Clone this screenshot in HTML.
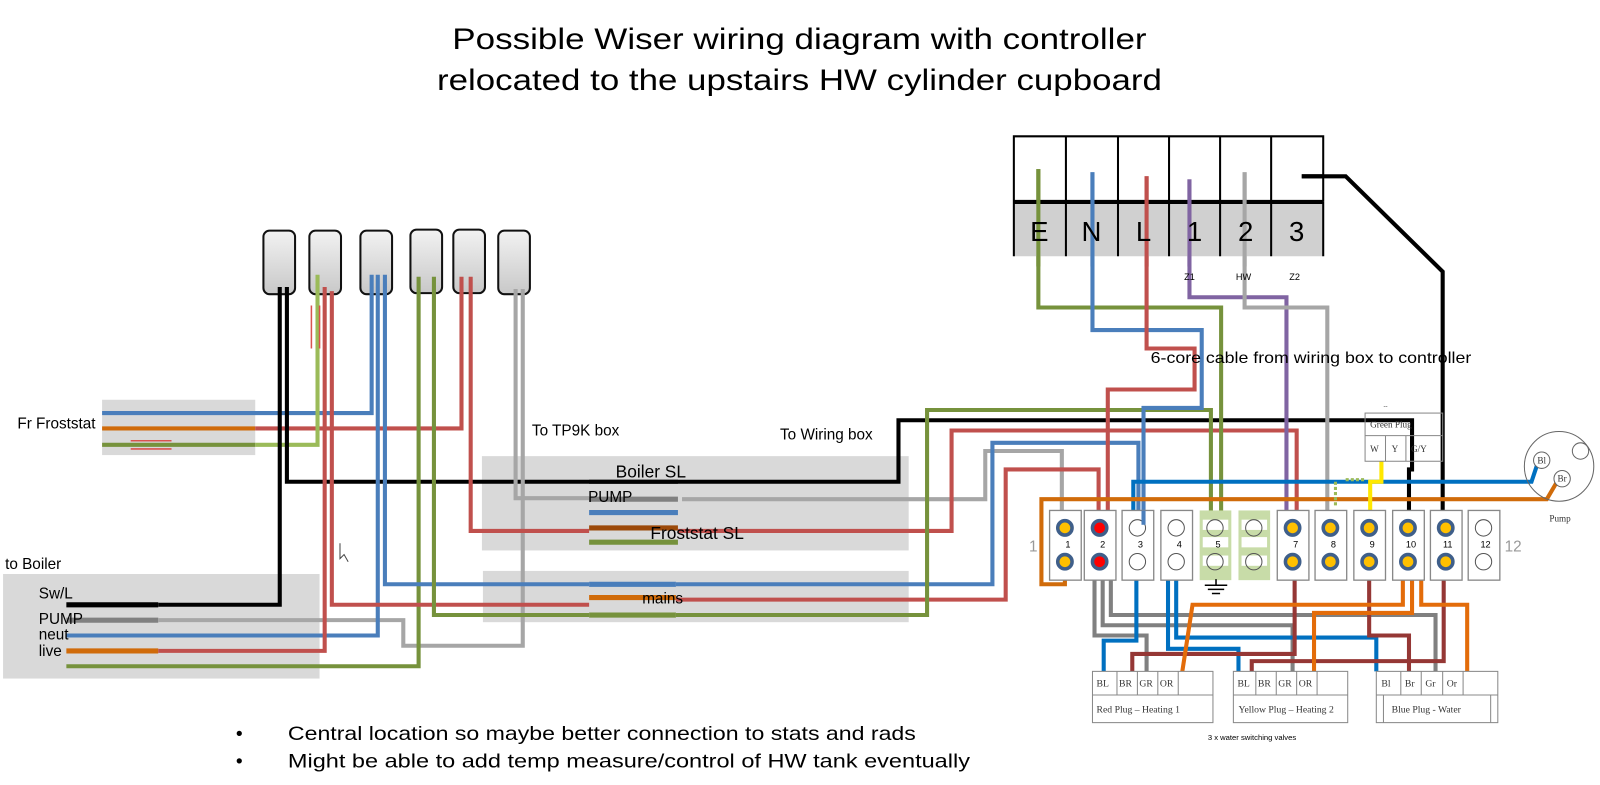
<!DOCTYPE html>
<html><head><meta charset="utf-8"><style>
html,body{margin:0;padding:0;background:#fff;}
svg{display:block;font-family:"Liberation Sans",sans-serif;}
</style></head><body>
<svg width="1600" height="785" viewBox="0 0 1600 785" xmlns="http://www.w3.org/2000/svg">
<defs>
<linearGradient id="sw" x1="0" y1="0" x2="0" y2="1"><stop offset="0" stop-color="#f2f2f2"/><stop offset="1" stop-color="#c8c8c8"/></linearGradient>
</defs>
<g transform="scale(1.021,1.025)">
<text x="783" y="48" font-size="29" text-anchor="middle" textLength="680" lengthAdjust="spacingAndGlyphs">Possible Wiser wiring diagram with controller</text>
<text x="783" y="88" font-size="29" text-anchor="middle" textLength="710" lengthAdjust="spacingAndGlyphs">relocated to the upstairs HW cylinder cupboard</text>

<rect x="100" y="390" width="150" height="54" fill="#d9d9d9"/>
<rect x="472" y="445" width="418" height="92" fill="#d9d9d9"/>
<rect x="473" y="557" width="417" height="50" fill="#d9d9d9"/>
<rect x="3" y="560" width="310" height="102" fill="#d9d9d9"/>

<g fill="url(#sw)" stroke="#111" stroke-width="2">
<rect x="258" y="225" width="31" height="62" rx="6"/>
<rect x="303" y="225" width="31" height="62" rx="6"/>
<rect x="353" y="225" width="31" height="62" rx="6"/>
<rect x="402" y="224" width="31" height="62" rx="6"/>
<rect x="444" y="224" width="31" height="62" rx="6"/>
<rect x="488" y="225" width="31" height="62" rx="6"/>
</g>

<g fill="none" stroke-width="4" stroke-linejoin="miter">
<path d="M100 403H250H364V268" stroke="#4a7ebb"/>
<path d="M100 418H250" stroke="#d06b0a"/>
<path d="M250 418H452V270" stroke="#c0504d"/>
<path d="M100 434H250" stroke="#76923c"/>
<path d="M250 434H311V268" stroke="#9bbb59"/>
<path d="M128 430H168M128 438H168" stroke="#d9534f" stroke-width="1.5"/>
<path d="M305 298V340M313 298V340" stroke="#d9534f" stroke-width="1.5"/>

<path d="M65 590H155" stroke="#000" stroke-width="5"/>
<path d="M155 590H274V280" stroke="#000" stroke-width="4"/>
<path d="M281 280V470H880V410H1383V458H1380V512" stroke="#000"/>
<path d="M65 605H155" stroke="#808080" stroke-width="5"/>
<path d="M155 605H395V630H512V282" stroke="#a6a6a6"/>
<path d="M65 620H155H370V268" stroke="#4a7ebb"/>
<path d="M65 635H155" stroke="#d06b0a" stroke-width="5"/>
<path d="M155 635H318V280" stroke="#c0504d"/>
<path d="M65 650H155H410V270" stroke="#76923c"/>

<path d="M325 284V590H577" stroke="#c0504d"/>
<path d="M377 268V570H577" stroke="#4a7ebb"/>
<path d="M425 270V600H577" stroke="#76923c"/>
<path d="M461 270V518H577" stroke="#c0504d"/>
<path d="M505 282V486H577" stroke="#a6a6a6"/>

<path d="M577 470H664" stroke="#000" stroke-width="4"/>
<path d="M577 487H664" stroke="#808080" stroke-width="5"/>
<path d="M577 500H664" stroke="#4a7ebb" stroke-width="5"/>
<path d="M577 515H664" stroke="#9c4a0a" stroke-width="5"/>
<path d="M577 529H664" stroke="#76923c" stroke-width="5"/>
<path d="M668 487H965V440H1040V512" stroke="#a6a6a6"/>
<path d="M664 518H932V420H1270V512" stroke="#c0504d"/>

<path d="M577 570H662" stroke="#4a7ebb" stroke-width="5"/>
<path d="M577 583H662" stroke="#d06b0a" stroke-width="5"/>
<path d="M577 600H662" stroke="#76923c" stroke-width="5"/>
<path d="M662 570H972V432H1115V512" stroke="#4a7ebb"/>
<path d="M662 585H985V458H1076V512" stroke="#c0504d"/>
<path d="M662 600H908V400H1186V512" stroke="#76923c"/>

<path d="M1017 165V300H1196V512" stroke="#76923c"/>
<path d="M1070 168V322H1177V398H1120V512" stroke="#4a7ebb"/>
<path d="M1123 172V340H1170V380H1085V512" stroke="#c0504d"/>
<path d="M1165 175V290H1260V512" stroke="#8064a2"/>
<path d="M1219 168V300H1300V512" stroke="#a6a6a6"/>
<path d="M1275 172H1318L1413 265V512" stroke="#000"/>

<path d="M1506 452L1500 470H1110V498" stroke="#0070c0"/>
<path d="M1525 470L1515 487H1020V570H1043V548" stroke="#d06b0a"/>
<path d="M1353 450V470H1342V498" stroke="#ffe800"/>
<path d="M1318 468H1336" stroke="#9bbb59" stroke-width="3" stroke-dasharray="3 2"/>
<path d="M1308 470V495" stroke="#9bbb59" stroke-width="3" stroke-dasharray="3 2"/>

<path d="M1072 565V620H1123V655" stroke="#808080"/>
<path d="M1080 565V610H1266V655" stroke="#808080"/>
<path d="M1088 565V600H1406V655" stroke="#808080"/>
<path d="M1113 565V625H1081V655" stroke="#0070c0"/>
<path d="M1144 565V633H1213V655" stroke="#0070c0"/>
<path d="M1152 565V622H1348V655" stroke="#0070c0"/>
<path d="M1268 565V638H1109V655" stroke="#953735"/>
<path d="M1341 565V620H1380V655" stroke="#953735"/>
<path d="M1414 565V645H1226V655" stroke="#953735"/>
<path d="M1374 565V590H1168L1158 655" stroke="#e36c0a"/>
<path d="M1383 565V598H1287V655" stroke="#e36c0a"/>
<path d="M1392 565V590H1437V655" stroke="#e36c0a"/>
</g>

<rect x="993" y="197" width="303" height="53" fill="#d0d0d0"/>
<g stroke="#000" stroke-width="2" fill="none">
<path d="M993 250V133H1296V197"/>
<path d="M1044 133V250M1095 133V250M1145 133V250M1195 133V250M1245 133V250M1296 197V250"/>
</g>
<path d="M993 197H1296" stroke="#000" stroke-width="4"/>
<g fill="none" stroke-width="4">
<path d="M1017 165V260" stroke="#76923c"/><path d="M1070 168V260" stroke="#4a7ebb"/>
<path d="M1123 172V260" stroke="#c0504d"/><path d="M1165 175V260" stroke="#8064a2"/>
<path d="M1219 168V260" stroke="#a6a6a6"/><path d="M1275 172H1296" stroke="#000"/>
</g>
<g font-size="27" text-anchor="middle">
<text x="1018" y="235">E</text><text x="1069" y="235">N</text><text x="1120" y="235">L</text>
<text x="1170" y="235">1</text><text x="1220" y="235">2</text><text x="1270" y="235">3</text>
</g>
<g font-size="9" text-anchor="middle"><text x="1165" y="273">Z1</text><text x="1218" y="273">HW</text><text x="1268" y="273">Z2</text></g>

<g stroke="#888" stroke-width="1.3" fill="#fff">
<rect x="1028" y="498" width="31" height="68"/><rect x="1062" y="498" width="31" height="68"/>
<rect x="1099" y="498" width="31" height="68"/><rect x="1137" y="498" width="31" height="68"/>
<rect x="1175" y="498" width="31" height="68" fill="#c8dca8" stroke="none"/>
<rect x="1213" y="498" width="31" height="68" fill="#c8dca8" stroke="none"/>
<rect x="1251" y="498" width="31" height="68"/><rect x="1288" y="498" width="31" height="68"/>
<rect x="1326" y="498" width="31" height="68"/><rect x="1364" y="498" width="31" height="68"/>
<rect x="1401" y="498" width="31" height="68"/><rect x="1438" y="498" width="31" height="68"/>
</g>
<g fill="#fff" stroke="none">
<rect x="1178" y="507" width="25" height="10"/><rect x="1178" y="524" width="25" height="10"/><rect x="1178" y="542" width="25" height="10"/>
<rect x="1216" y="507" width="25" height="10"/><rect x="1216" y="524" width="25" height="10"/><rect x="1216" y="542" width="25" height="10"/>
</g>
<g stroke="#3f5f8a" stroke-width="3.5" fill="#ffc000">
<circle cx="1043" cy="515" r="7"/><circle cx="1043" cy="548" r="7"/>
<circle cx="1266" cy="515" r="7"/><circle cx="1266" cy="548" r="7"/>
<circle cx="1303" cy="515" r="7"/><circle cx="1303" cy="548" r="7"/>
<circle cx="1341" cy="515" r="7"/><circle cx="1341" cy="548" r="7"/>
<circle cx="1379" cy="515" r="7"/><circle cx="1379" cy="548" r="7"/>
<circle cx="1416" cy="515" r="7"/><circle cx="1416" cy="548" r="7"/>
<circle cx="1077" cy="515" r="7" fill="#f00"/><circle cx="1077" cy="548" r="7" fill="#f00"/>
</g>
<g stroke="#555" stroke-width="1" fill="none">
<circle cx="1114" cy="515" r="8"/><circle cx="1114" cy="548" r="8"/>
<circle cx="1152" cy="515" r="8"/><circle cx="1152" cy="548" r="8"/>
<circle cx="1190" cy="515" r="8"/><circle cx="1190" cy="548" r="8"/>
<circle cx="1228" cy="515" r="8"/><circle cx="1228" cy="548" r="8"/>
<circle cx="1453" cy="515" r="8"/><circle cx="1453" cy="548" r="8"/>
</g>
<path d="M1120 498V512" stroke="#4a7ebb" stroke-width="4"/>
<g font-size="9" text-anchor="middle">
<text x="1046" y="534">1</text><text x="1080" y="534">2</text><text x="1117" y="534">3</text><text x="1155" y="534">4</text>
<text x="1193" y="534">5</text><text x="1269" y="534">7</text><text x="1306" y="534">8</text><text x="1344" y="534">9</text>
<text x="1382" y="534">10</text><text x="1418" y="534">11</text><text x="1455" y="534">12</text>
</g>
<text x="1012" y="538" font-size="15" fill="#999" text-anchor="middle">1</text>
<text x="1482" y="538" font-size="15" fill="#999" text-anchor="middle">12</text>
<path d="M1180 571H1202M1183 575H1199M1187 579H1195M1191 565V571" stroke="#000" stroke-width="1.5"/>

<g stroke="#888" stroke-width="1" fill="#fff">
<rect x="1337" y="403" width="76" height="47" fill="none"/>
<path d="M1337 425H1413M1357 425V450M1377 425V450"/>
</g>
<g font-family="Liberation Serif,serif" font-size="9" fill="#333">
<text x="1342" y="417">Green Plug</text>
<text x="1342" y="441">W</text><text x="1363" y="441">Y</text><text x="1382" y="441">G/Y</text>
<text x="1355" y="398" font-size="6">--</text>
</g>

<circle cx="1527" cy="455" r="34" fill="none" stroke="#666" stroke-width="1"/>
<circle cx="1510" cy="449" r="8" fill="#fff" stroke="#666"/><circle cx="1530" cy="467" r="8" fill="#fff" stroke="#666"/>
<circle cx="1548" cy="440" r="8" fill="#fff" stroke="#666"/>
<g font-family="Liberation Serif,serif" font-size="9" fill="#333" text-anchor="middle">
<text x="1510" y="452">Bl</text><text x="1530" y="470">Br</text><text x="1528" y="509">Pump</text></g>

<g stroke="#888" stroke-width="1" fill="none">
<rect x="1070" y="655" width="118" height="50"/><path d="M1070 678H1188M1094 655V678M1114 655V678M1134 655V678M1154 655V678"/>
<rect x="1208" y="655" width="112" height="50"/><path d="M1208 678H1320M1230 655V678M1250 655V678M1270 655V678M1290 655V678"/>
<rect x="1348" y="655" width="119" height="50"/><path d="M1348 678H1467M1372 655V678M1392 655V678M1413 655V678M1433 655V678M1355 678V705M1460 678V705"/>
</g>
<g font-family="Liberation Serif,serif" font-size="9.5" fill="#333">
<text x="1074" y="670">BL</text><text x="1096" y="670">BR</text><text x="1116" y="670">GR</text><text x="1136" y="670">OR</text>
<text x="1212" y="670">BL</text><text x="1232" y="670">BR</text><text x="1252" y="670">GR</text><text x="1272" y="670">OR</text>
<text x="1353" y="670">Bl</text><text x="1376" y="670">Br</text><text x="1396" y="670">Gr</text><text x="1417" y="670">Or</text>
<text x="1074" y="695">Red Plug – Heating 1</text>
<text x="1213" y="695">Yellow Plug – Heating 2</text>
<text x="1363" y="695">Blue Plug - Water</text>
</g>
<text x="1183" y="722" font-size="7.5">3 x water switching valves</text>

<g font-size="15">
<text x="17" y="418">Fr Froststat</text>
<text x="5" y="555">to Boiler</text>
<text x="38" y="584">Sw/L</text>
<text x="38" y="609">PUMP</text>
<text x="38" y="624">neut</text>
<text x="38" y="640">live</text>
<text x="521" y="425">To TP9K box</text>
<text x="764" y="429">To Wiring box</text>
<text x="576" y="490">PUMP</text>
<text x="629" y="589">mains</text>
<text x="1127" y="354" textLength="314" lengthAdjust="spacingAndGlyphs">6-core cable from wiring box to controller</text>
</g>
<text x="603" y="466" font-size="17">Boiler SL</text>
<text x="637" y="526" font-size="17">Froststat SL</text>
<g font-size="19">
<text x="231" y="722">•</text><text x="282" y="722" textLength="615" lengthAdjust="spacingAndGlyphs">Central location so maybe better connection to stats and rads</text>
<text x="231" y="749">•</text><text x="282" y="749" textLength="668" lengthAdjust="spacingAndGlyphs">Might be able to add temp measure/control of HW tank eventually</text>
</g>
<path d="M333 530L333 545L337 541L341 548" fill="none" stroke="#444" stroke-width="1"/>
</g>
</svg>
</body></html>
